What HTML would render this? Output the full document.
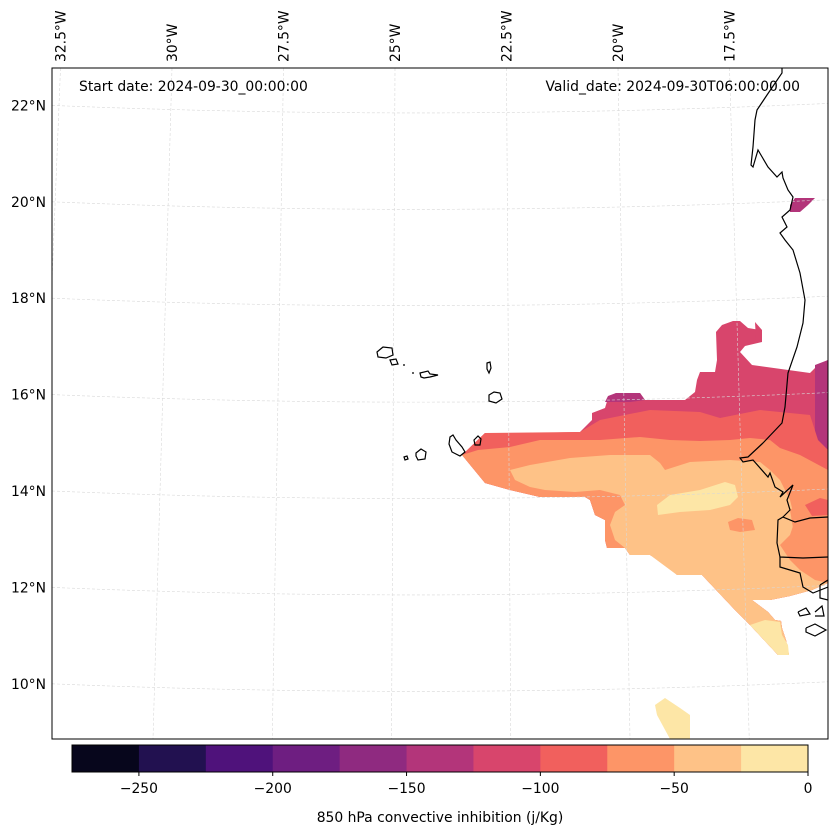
<!DOCTYPE html>
<html><head><meta charset="utf-8"><style>
html,body{margin:0;padding:0;background:#fff}
svg{display:block;font-family:"DejaVu Sans","Liberation Sans",sans-serif}
</style></head><body>
<svg id="chart" width="837" height="836" viewBox="0 0 837 836" xmlns="http://www.w3.org/2000/svg">
<defs><clipPath id="mapclip"><rect x="52" y="68" width="776" height="671"/></clipPath></defs>
<rect x="0" y="0" width="837" height="836" fill="#fff"/>
<g id="fills" clip-path="url(#mapclip)"></g>
<g id="grid" clip-path="url(#mapclip)"></g>
<g id="coast" clip-path="url(#mapclip)"></g>
<rect x="52" y="68" width="776" height="671" fill="none" stroke="#000" stroke-width="1"/>
<g id="latlabels"></g>
<g id="lonlabels"></g>
<text x="79" y="91" font-size="13.9">Start date: 2024-09-30_00:00:00</text>
<text x="800" y="91" font-size="13.9" text-anchor="end">Valid_date: 2024-09-30T06:00:00.00</text>
<g id="cbar"></g>
<text x="440" y="822" font-size="13.9" text-anchor="middle">850 hPa convective inhibition (j/Kg)</text>
</svg>
<script>
const NS="http://www.w3.org/2000/svg";
// colorbar data
const levels=[-275,-250,-225,-200,-175,-150,-125,-100,-75,-50,-25,0];
const levelColors=["#07061c","#221150","#4f127b","#6e1e81","#8f2a80","#b3357a","#d8456c","#f1605d","#fd9567","#fec287","#fde6a6"];
const cbarTicks=[-250,-200,-150,-100,-50,0];
const cbarTickLabels=["\u2212250","\u2212200","\u2212150","\u2212100","\u221250","0"];
// graticule data
const latValues=[22,20,18,16,14,12,10];
const latTickLabels=["22°N","20°N","18°N","16°N","14°N","12°N","10°N"];
const lonValues=[-32.5,-30,-27.5,-25,-22.5,-20,-17.5];
const lonTickLabels=["32.5°W","30°W","27.5°W","25°W","22.5°W","20°W","17.5°W"];
// contour fills: [level index, outline in map-pixel units]
const fillLevels=[6,5,5,5,7,8,9,10,8,8,7,10,10,6];
const fillShapes=[
 [[462,455],[485,433],[527,433],[530,437],[533,433],[580,432],[592,420],[592,413],[605,408],[608,398],[616,393],[640,393],[645,400],[685,400],[695,392],[697,380],[700,372],[715,372],[717,360],[716,332],[722,325],[733,321],[740,321],[748,328],[760,330],[762,342],[745,346],[740,352],[752,365],[810,373],[818,365],[828,360],[828,583],[812,590],[790,596],[770,600],[752,600],[768,612],[775,620],[781,621],[782,628],[786,640],[789,655],[778,655],[750,625],[735,610],[702,575],[677,575],[672,567],[650,555],[630,555],[625,548],[607,548],[605,540],[605,520],[595,515],[590,500],[585,497],[540,497],[510,490],[485,483]],
 [[605,402],[608,396],[616,393],[640,393],[645,400],[630,402]],
 [[815,365],[828,360],[828,465],[818,462],[815,445]],
 [[790,205],[795,198],[815,198],[808,205],[800,212],[790,212]],
 [[462,455],[485,433],[580,432],[600,420],[650,410],[700,412],[720,418],[760,410],[790,413],[810,415],[818,440],[828,450],[828,583],[812,590],[790,596],[770,600],[752,600],[768,612],[775,620],[781,621],[782,628],[786,640],[789,655],[778,655],[750,625],[735,610],[702,575],[677,575],[672,567],[650,555],[630,555],[625,548],[607,548],[605,540],[605,520],[595,515],[590,500],[585,497],[540,497],[510,490],[485,483]],
 [[462,455],[478,450],[510,447],[540,440],[570,440],[600,440],[640,437],[670,440],[700,441],[730,440],[750,438],[770,440],[780,448],[800,455],[828,470],[828,583],[812,590],[790,596],[770,600],[752,600],[768,612],[775,620],[781,621],[782,628],[786,640],[789,655],[778,655],[750,625],[735,610],[702,575],[677,575],[672,567],[650,555],[630,555],[625,548],[607,548],[605,540],[605,520],[595,515],[590,500],[585,497],[540,497],[510,490],[485,483]],
 [[510,470],[530,465],[570,458],[610,455],[650,455],[660,463],[665,470],[690,462],[730,460],[760,462],[770,470],[780,480],[790,500],[795,520],[790,535],[780,545],[790,560],[800,570],[815,580],[828,583],[812,590],[790,596],[770,600],[752,600],[768,612],[775,620],[781,621],[782,628],[786,640],[789,655],[778,655],[750,625],[735,610],[702,575],[677,575],[650,555],[630,555],[625,548],[615,540],[610,525],[615,512],[625,505],[620,495],[600,490],[575,492],[545,490],[530,487],[515,480]],
 [[657,505],[670,495],[700,490],[725,482],[735,485],[738,497],[730,505],[710,510],[680,512],[658,515]],
 [[728,522],[738,518],[752,520],[755,530],[740,532],[730,530]],
 [[790,510],[805,500],[828,490],[828,560],[810,555],[795,540]],
 [[805,505],[820,498],[828,500],[828,515],[812,516]],
 [[750,625],[765,620],[780,622],[782,635],[788,645],[789,655],[778,655]],
 [[655,705],[665,698],[680,708],[690,715],[690,739],[670,739],[657,715]],
 [[755,322],[762,330],[762,342],[756,340]]
];
// coastline data (map-pixel units)
const coastLines=[
 [[782,68],[782,73],[767,95],[757,110],[755,120],[753,147],[751,165],[753,167],[758,150],[768,167],[777,177],[782,172],[783,178],[788,190],[793,197],[790,210],[782,217],[787,227],[780,233],[785,240],[793,250],[800,273],[805,300],[803,323],[797,347],[788,373],[785,407],[782,423],[763,443],[748,457],[740,458],[743,462],[753,460],[768,477],[770,473],[775,487],[783,492],[780,497],[793,485],[787,500],[790,510],[783,517],[795,522],[810,518],[828,517]],
 [[783,517],[778,520],[777,543],[780,557],[803,558],[828,557]],
 [[780,557],[780,567],[800,573],[803,587],[813,593],[828,587]],
 [[798,612],[806,608],[810,614],[800,616],[798,612]],
 [[815,612],[822,606],[824,616],[815,616]],
 [[806,628],[815,624],[826,630],[815,636],[806,632],[806,628]],
 [[820,585],[828,580],[828,600],[820,598],[820,585]]
];
const islands=[
 [[377,352],[383,347],[392,348],[393,355],[386,358],[378,357]],
 [[390,360],[396,359],[398,364],[392,365]],
 [[420,373],[428,371],[430,374],[438,375],[430,377],[424,378],[421,377]],
 [[487,363],[490,362],[491,368],[489,373],[487,369]],
 [[489,395],[494,392],[500,393],[502,399],[496,403],[489,401]],
 [[450,437],[453,435],[456,440],[462,447],[465,452],[460,456],[452,452],[449,444]],
 [[474,440],[478,436],[481,439],[480,445],[475,445]],
 [[416,453],[421,449],[426,452],[425,459],[418,460],[416,456]],
 [[404,457],[407,456],[408,459],[405,460]],
 [[403,365],[405,365]],[[412,373],[414,373]]
];
function el(tag,attrs,parent){const e=document.createElementNS(NS,tag);for(const k in attrs)e.setAttribute(k,attrs[k]);parent.appendChild(e);return e;}
function pts(a){return a.map(p=>p[0]+","+p[1]).join(" ");}
const fills=document.getElementById("fills");
fillShapes.forEach((s,i)=>{
 const p=el("polygon",{points:pts(s),fill:levelColors[fillLevels[i]]},fills);
 
 
});
// graticule
const grid=document.getElementById("grid");
const latY=lat=>491-(lat-14)*48.2;
latValues.forEach(lat=>{
 const y=latY(lat);
 const p=el("path",{d:`M52,${y} Q440,${y+16} 828,${y-2}`,fill:"none",stroke:"#d8d8d8","stroke-width":0.6,"stroke-dasharray":"3,2"},grid);
 
 
});
const lonX=lon=>618+(lon+20)*44.6;
const lonSlant=lon=>12+(lon+20)*3.1;
lonValues.forEach(lon=>{
 const x=lonX(lon),s=lonSlant(lon);
 const p=el("line",{x1:x,y1:68,x2:x+s,y2:739,stroke:"#d8d8d8","stroke-width":0.6,"stroke-dasharray":"3,2"},grid);
 
 
});
const latG=document.getElementById("latlabels");
latValues.forEach((lat,i)=>{
 const t=el("text",{x:46,y:latY(lat)+5,"font-size":13.9,"text-anchor":"end"},latG);
 t.textContent=latTickLabels[i];
 
 
});
const lonG=document.getElementById("lonlabels");
lonValues.forEach((lon,i)=>{
 const x=lonX(lon)+5;
 const t=el("text",{x:x,y:62,"font-size":13.9,transform:`rotate(-90 ${x} 62)`},lonG);
 t.textContent=lonTickLabels[i];
 
 
});
// coast
const coast=document.getElementById("coast");
coastLines.forEach(c=>{
 const p=el("polyline",{points:pts(c),fill:"none",stroke:"#000","stroke-width":1.2},coast);
 
 
});
islands.forEach(c=>{
 const p=el("polygon",{points:pts(c),fill:"none",stroke:"#000","stroke-width":1.2},coast);
 
 
});
// colorbar
const cb=document.getElementById("cbar");
const cbX=v=>72+(v-levels[0])/(levels[levels.length-1]-levels[0])*736;
for(let i=0;i<levelColors.length;i++){
 const r=el("rect",{x:cbX(levels[i]),y:745,width:cbX(levels[i+1])-cbX(levels[i])+0.5,height:27,fill:levelColors[i]},cb);
 
 
}
el("rect",{x:72,y:745,width:736,height:27,fill:"none",stroke:"#000","stroke-width":1},cb);
cbarTicks.forEach((v,i)=>{
 const x=cbX(v);
 const l=el("line",{x1:x,y1:772,x2:x,y2:776,stroke:"#000"},cb);
 
 
 const t=el("text",{x:x,y:793,"font-size":13.9,"text-anchor":"middle"},cb);
 t.textContent=cbarTickLabels[i];
 
 
});
</script>
</body></html>
